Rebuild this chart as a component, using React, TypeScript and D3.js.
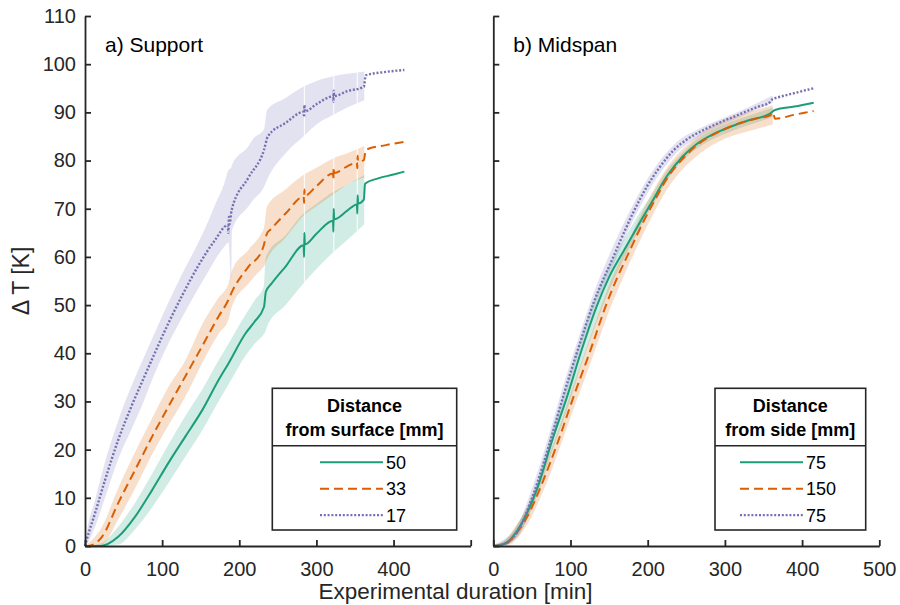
import React, { useEffect, useRef } from "react";
import * as d3 from "d3";

// ---- a) Support : time [min] / delta T [K] ----
const supGreenT = [0, 20, 43, 65, 87, 108, 130, 152, 173, 186, 208, 220, 232, 234.5, 242, 260, 283.5, 284, 284.4, 285, 300, 321.5, 322, 322.4, 323, 340, 352.5, 353, 353.4, 354, 361.5, 363, 380, 400, 414];
const supGreenV = [0, 0, 1.9, 6.1, 11.6, 17.2, 22.7, 28.2, 34.4, 37.9, 44.1, 46.6, 49.6, 52.8, 54.5, 58, 62.4, 60, 65, 62.6, 64.8, 67.5, 65.2, 70, 67.8, 69.6, 70.9, 69, 72.8, 71.1, 71.9, 75.2, 76.3, 77.1, 77.7];
const supGreenBandT = [0, 20, 43, 65, 87, 108, 130, 152, 173, 186, 208, 220, 232, 234, 236, 260, 283, 300, 322, 340, 362];
const supGreenLo = [0, 0, 0.3, 3.5, 8, 13, 18.5, 24, 30, 33.5, 39.5, 42, 44, 44.5, 45.5, 50, 54.5, 57.5, 61, 63.5, 66.8];
const supGreenHi = [0, 0.5, 4, 9, 15, 21, 27, 32.5, 38.5, 42, 48, 51, 54, 59.5, 60.5, 64.5, 69, 71, 73.5, 75, 77];

const supOrangeT = [0, 4, 22, 43, 65, 87, 108, 130, 152, 173, 185, 190, 212, 229, 231, 236, 240, 260, 283.5, 284, 284.4, 285, 300, 321.5, 322, 322.4, 323, 340, 352.5, 353, 353.4, 354, 361.5, 364, 390, 414];
const supOrangeV = [0, 0, 1.9, 8.9, 15.8, 22.7, 28.9, 35.2, 41.5, 47.6, 50.8, 52.6, 58, 61.2, 62, 64.9, 65.6, 69, 72.5, 71.2, 74, 72.7, 74.7, 77.3, 76, 78.6, 77.4, 78.8, 79.6, 78.4, 81, 79.8, 80.1, 82.2, 83.2, 83.9];
const supOrangeBandT = [0, 4, 22, 43, 65, 87, 108, 130, 152, 173, 186, 190, 212, 229, 232, 236, 260, 283, 300, 322, 340, 362];
const supOrangeLo = [0, 0, 0.3, 5.5, 12, 19, 25, 31, 38, 44, 47, 49.5, 54.5, 57.5, 58, 59.5, 64, 68.5, 70.5, 73, 75, 76.5];
const supOrangeHi = [0, 0.5, 4, 12, 19.5, 26.5, 33, 38.5, 46, 51.5, 54.5, 57, 61.5, 65, 66, 70.5, 74, 77, 78.5, 80.5, 81.5, 83];

const supPurpleT = [0, 2, 13, 26, 43, 61, 76, 87, 108, 126, 147, 169, 185, 186, 186.5, 187.5, 190, 212, 232, 237, 260, 283.5, 284, 284.4, 285, 300, 321.5, 322, 322.4, 323, 340, 361.5, 364, 390, 414];
const supPurpleV = [0, 1.2, 6.8, 13.7, 22, 29.3, 34.8, 38.8, 46.2, 52, 58.2, 63.6, 66.6, 65, 68.3, 66.8, 69.7, 76.5, 82.2, 85, 87.8, 90.1, 89, 91.5, 90.2, 91.7, 93.3, 92.2, 94.5, 93.4, 94.4, 95.3, 97.7, 98.4, 98.8];
const supPurpleBandT = [0, 2, 13, 26, 43, 61, 76, 87, 108, 126, 147, 160, 169, 180, 186, 189.5, 190.5, 212, 218, 232, 236, 260, 283, 300, 322, 340, 362];
const supPurpleLo = [0, 0.3, 4, 10, 18, 24.5, 30, 34.5, 42, 47.5, 53.5, 57, 59.5, 62, 63, 55.5, 65.5, 70.5, 71.8, 74.5, 76, 81.5, 85, 87.5, 89.5, 91, 92.5];
const supPurpleHi = [0, 2.5, 9.5, 17.5, 26, 33.5, 39, 43, 50.5, 56.5, 63, 67.5, 71, 75, 78, 78.5, 79, 83, 84.5, 86.5, 90.5, 93, 95.3, 96.5, 97.5, 98, 98.5];

const supGapTimes = [284.5, 322.5, 353];

// ---- b) Midspan ----
const midGreenT = [0, 10, 18, 35, 57, 76, 96, 113, 134, 150, 169, 190, 205, 225, 245, 264, 285, 307, 330, 359, 362, 365, 390, 415];
const midGreenV = [0, 0.2, 0.8, 4.2, 12, 21.8, 31.2, 40, 49.8, 55.8, 61.3, 67.2, 71.3, 76.8, 80.8, 83.5, 85.5, 87, 88.3, 89.8, 90.2, 90.5, 91.2, 92];
const midGreenBandT = [0, 18, 35, 57, 76, 96, 113, 134, 150, 169, 190, 205, 225, 245, 264, 285, 307, 330, 362];
const midGreenLo = [0, 0.3, 3, 10.5, 19.5, 28.5, 37, 46.5, 53, 59.5, 66, 70.3, 75.8, 80, 82.5, 84.5, 86, 87.3, 89];
const midGreenHi = [0.2, 1.5, 5.5, 13.5, 24, 34, 43, 52.5, 58.3, 63.5, 69.3, 72.8, 78, 81.6, 84.5, 86.5, 88, 89.3, 91];

const midOrangeT = [0, 15, 26, 44, 65, 83, 104, 126, 147, 160, 173, 195, 210, 225, 245, 268, 290, 316, 340, 359, 362, 365, 390, 415];
const midOrangeV = [0, 0.3, 1.9, 6.1, 13.7, 21.3, 31, 40.7, 50.4, 55.5, 60, 67.5, 72, 76.3, 80.3, 83.7, 85.8, 87.6, 88.7, 89.4, 90, 88.7, 89.5, 90.3];
const midOrangeBandT = [0, 15, 26, 44, 65, 83, 104, 126, 147, 173, 195, 225, 268, 300, 340, 362];
const midOrangeLo = [0, 0, 0.8, 4.5, 11.5, 19, 28.5, 38, 47.5, 57.5, 65, 74, 81.5, 84.5, 86.5, 87.5];
const midOrangeHi = [0.3, 1.2, 3.5, 8, 16, 23.5, 33.5, 43.5, 53, 62.5, 70, 78.5, 85.5, 88.5, 90.5, 91.5];

const midPurpleT = [0, 9, 20, 31, 52, 72, 91, 110, 130, 156, 165, 180, 199, 215, 234, 250, 272, 295, 316, 340, 359, 362, 364, 390, 415];
const midPurpleV = [0, 0.2, 0.9, 2.9, 10.8, 20.8, 31.3, 41, 50.5, 60.2, 63.5, 68.8, 74.6, 78.5, 82.2, 84.3, 86.3, 88, 89.4, 91, 92.2, 92.8, 92.9, 94, 95];
const midPurpleBandT = [0, 9, 31, 52, 72, 91, 110, 130, 156, 180, 199, 234, 272, 316, 362];
const midPurpleLo = [0, 0, 1.8, 9, 18.8, 29.5, 39.5, 49, 58.5, 67.2, 73, 81, 85.5, 88.8, 92];
const midPurpleHi = [0.2, 0.9, 4.2, 12.8, 23, 33.5, 43, 52.5, 62.5, 70.5, 76, 83.3, 87, 90, 93.5];

const xTicks = [0, 100, 200, 300, 400, 500];
const supXLabels = [0, 100, 200, 300, 400];
const midXLabels = [0, 100, 200, 300, 400, 500];
const yTicks = [0, 10, 20, 30, 40, 50, 60, 70, 80, 90, 100, 110];

const supLegendTitle = ["Distance", "from surface [mm]"];
const supLegendLabels = ["50", "33", "17"];
const midLegendTitle = ["Distance", "from side [mm]"];
const midLegendLabels = ["75", "150", "75"];

const FONT = "'Liberation Sans', Arial, Helvetica, sans-serif";
const INK = "#262626";
const GREEN = "#1b9e77";
const ORANGE = "#d95f02";
const PURPLE = "#7570b3";
const styles = [
  { color: GREEN, dash: "none", width: 2 },
  { color: ORANGE, dash: "9 5", width: 2 },
  { color: PURPLE, dash: "2 1.8", width: 2.4 },
];

type Series = { t: number[]; v: number[]; bt: number[]; lo: number[]; hi: number[] };

const supSeries: Series[] = [
  { t: supGreenT, v: supGreenV, bt: supGreenBandT, lo: supGreenLo, hi: supGreenHi },
  { t: supOrangeT, v: supOrangeV, bt: supOrangeBandT, lo: supOrangeLo, hi: supOrangeHi },
  { t: supPurpleT, v: supPurpleV, bt: supPurpleBandT, lo: supPurpleLo, hi: supPurpleHi },
];
const midSeries: Series[] = [
  { t: midGreenT, v: midGreenV, bt: midGreenBandT, lo: midGreenLo, hi: midGreenHi },
  { t: midOrangeT, v: midOrangeV, bt: midOrangeBandT, lo: midOrangeLo, hi: midOrangeHi },
  { t: midPurpleT, v: midPurpleV, bt: midPurpleBandT, lo: midPurpleLo, hi: midPurpleHi },
];

const Y0 = 546, Y1 = 16;

type PanelProps = {
  left: number; right: number; title: string; series: Series[];
  xLabels: number[]; showYLabels: boolean; gaps: number[];
  legendTitle: string[]; legendLabels: string[];
  legendBox: { x: number; w: number; lineX: number };
};

function Panel(p: PanelProps) {
  const gx = useRef<SVGGElement>(null);
  const gy = useRef<SVGGElement>(null);
  const x = d3.scaleLinear().domain([0, 500]).range([p.left, p.right]);
  const y = d3.scaleLinear().domain([0, 110]).range([Y0, Y1]);

  useEffect(() => {
    const ax = d3.axisBottom(x).tickValues(xTicks).tickSizeInner(-6).tickSizeOuter(0).tickPadding(16)
      .tickFormat((d) => (p.xLabels.includes(+d) ? String(d) : ""));
    const ay = d3.axisLeft(y).tickValues(yTicks).tickSizeInner(-6).tickSizeOuter(0).tickPadding(9)
      .tickFormat((d) => (p.showYLabels ? String(d) : ""));
    [d3.select(gx.current!).call(ax), d3.select(gy.current!).call(ay)].forEach((g) => {
      g.attr("font-family", FONT).attr("font-size", 20).style("color", INK);
      g.selectAll("path, line").attr("stroke-width", 1.8);
      g.selectAll("text").attr("fill", INK);
    });
  }, []);

  const area = d3.area<number>().curve(d3.curveMonotoneX);
  const line = d3.line<number>().curve(d3.curveMonotoneX);

  const lb = p.legendBox;
  const top = 388.3, bottom = 530;

  return (
    <g>
      {p.series.map((s, i) => (
        <path key={"b" + i}
          d={area.x((_, k) => x(s.bt[k])).y0((_, k) => y(s.lo[k])).y1((_, k) => y(s.hi[k]))(s.bt) || ""}
          fill={styles[i].color} fillOpacity={0.2} stroke="none" />
      ))}
      {p.gaps.map((t, j) => {
        const los = p.series.map((s) => d3.scaleLinear().domain(s.bt).range(s.lo)(t));
        const his = p.series.map((s) => d3.scaleLinear().domain(s.bt).range(s.hi)(t));
        return <line key={"g" + j} x1={x(t)} x2={x(t)} y1={y(d3.min(los)!)} y2={y(d3.max(his)!)}
          stroke="#fff" strokeWidth={1.2} strokeOpacity={0.85} />;
      })}
      {p.series.map((s, i) => (
        <path key={"l" + i}
          d={line.x((_, k) => x(s.t[k])).y((_, k) => y(s.v[k]))(s.t) || ""}
          fill="none" stroke={styles[i].color} strokeWidth={styles[i].width}
          strokeDasharray={styles[i].dash} strokeLinejoin="round" />
      ))}
      <g ref={gx} transform={`translate(0,${Y0})`} />
      <g ref={gy} transform={`translate(${p.left},0)`} />
      <text x={p.left + 20} y={52} fontFamily={FONT} fontSize={21} fill="#000">{p.title}</text>

      <rect x={lb.x} y={top} width={lb.w} height={bottom - top} fill="#fff" stroke={INK} strokeWidth={1.6} />
      <line x1={lb.x} x2={lb.x + lb.w} y1={top + 57.4} y2={top + 57.4} stroke={INK} strokeWidth={1.6} />
      {p.legendTitle.map((t, k) => (
        <text key={"t" + k} x={lb.x + lb.w / 2} y={top + 23.2 + k * 24.5} textAnchor="middle"
          fontFamily={FONT} fontSize={18} fontWeight="bold" fill="#000">{t}</text>
      ))}
      {p.legendLabels.map((lab, k) => {
        const cy = top + 74 + k * 26.4;
        return (
          <g key={"e" + k}>
            <line x1={lb.lineX} x2={lb.lineX + 63} y1={cy} y2={cy} stroke={styles[k].color}
              strokeWidth={styles[k].width} strokeDasharray={styles[k].dash} />
            <text x={lb.lineX + 66} y={cy + 6.5} fontFamily={FONT} fontSize={18} fill="#000">{lab}</text>
          </g>
        );
      })}
    </g>
  );
}

export default function App() {
  return (
    <svg width={900} height={605} viewBox="0 0 900 605"
      style={{ position: "absolute", left: 0, top: 0, background: "#fff" }}>
      <Panel left={85} right={470.7} title="a) Support" series={supSeries}
        xLabels={supXLabels} showYLabels={true} gaps={supGapTimes}
        legendTitle={supLegendTitle} legendLabels={supLegendLabels}
        legendBox={{ x: 272.3, w: 184.4, lineX: 320 }} />
      <Panel left={493.3} right={879.3} title="b) Midspan" series={midSeries}
        xLabels={midXLabels} showYLabels={false} gaps={[]}
        legendTitle={midLegendTitle} legendLabels={midLegendLabels}
        legendBox={{ x: 715, w: 150.7, lineX: 740 }} />
      <text transform="translate(29,281) rotate(-90)" textAnchor="middle" fontFamily={FONT}
        fontSize={23} fill={INK}>Δ T [K]</text>
      <text x={455.5} y={599} textAnchor="middle" fontFamily={FONT} fontSize={22.5} fill={INK}>
        Experimental duration [min]
      </text>
    </svg>
  );
}
